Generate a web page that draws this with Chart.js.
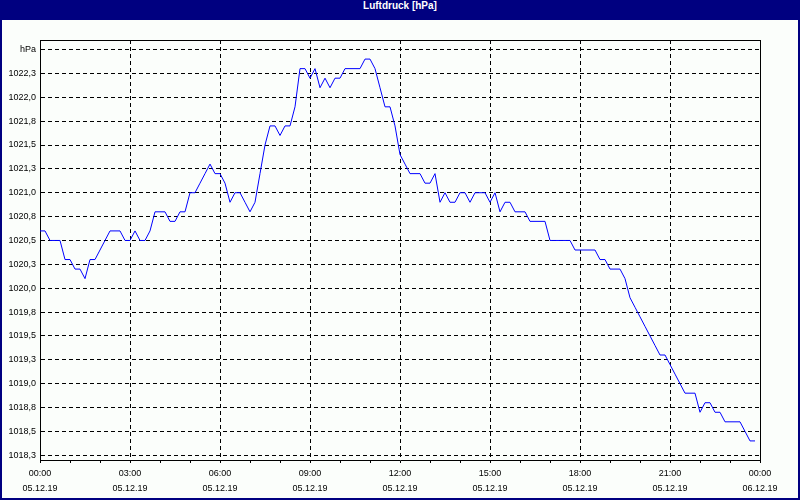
<!DOCTYPE html>
<html>
<head>
<meta charset="utf-8">
<script src="https://cdn.jsdelivr.net/npm/chart.js@4/dist/chart.umd.min.js"></script>
<style>
  html, body { margin: 0; padding: 0; background: #000080; }
  #frame { position: relative; width: 800px; height: 500px; background: #000080; overflow: hidden; }
  #title { position: absolute; left: 0; top: 0; width: 800px; height: 20px; line-height: 18px; text-align: center;
           color: #fff; font: bold 10px "Liberation Sans Narrow", "Liberation Sans", sans-serif; }
  #panel { position: absolute; left: 2px; top: 20px; right: 2px; bottom: 2px; background: #fbfefb; }
  #chart { position: absolute; left: 0; top: 0; }
</style>
</head>
<body>
<div id="frame">
  <div id="title">Luftdruck [hPa]</div>
  <div id="panel"></div>
  <canvas id="chart" width="800" height="500"></canvas>
</div>
<script>
// Luftdruck 05.12.19 – 10-Minuten-Werte, Zeit in Minuten ab 00:00
const stepMinutes = 10;
const pressure = [
    1020.6, 1020.6, 1020.5, 1020.5, 1020.5, 1020.3, 1020.3, 1020.2, 1020.2, 1020.1, 1020.3, 1020.3, // 00–02
    1020.4, 1020.5, 1020.6, 1020.6, 1020.6, 1020.5, 1020.5, 1020.6, 1020.5, 1020.5, 1020.6, 1020.8, // 02–04
    1020.8, 1020.8, 1020.7, 1020.7, 1020.8, 1020.8, 1021.0, 1021.0, 1021.1, 1021.2, 1021.3, 1021.2, // 04–06
    1021.2, 1021.1, 1020.9, 1021.0, 1021.0, 1020.9, 1020.8, 1020.9, 1021.2, 1021.5, 1021.7, 1021.7, // 06–08
    1021.6, 1021.7, 1021.7, 1021.9, 1022.3, 1022.3, 1022.2, 1022.3, 1022.1, 1022.2, 1022.1, 1022.2, // 08–10
    1022.2, 1022.3, 1022.3, 1022.3, 1022.3, 1022.4, 1022.4, 1022.3, 1022.1, 1021.9, 1021.9, 1021.7, // 10–12
    1021.4, 1021.3, 1021.2, 1021.2, 1021.2, 1021.1, 1021.1, 1021.2, 1020.9, 1021.0, 1020.9, 1020.9, // 12–14
    1021.0, 1021.0, 1020.9, 1021.0, 1021.0, 1021.0, 1020.9, 1021.0, 1020.8, 1020.9, 1020.9, 1020.8, // 14–16
    1020.8, 1020.8, 1020.7, 1020.7, 1020.7, 1020.7, 1020.5, 1020.5, 1020.5, 1020.5, 1020.5, 1020.4, // 16–18
    1020.4, 1020.4, 1020.4, 1020.4, 1020.3, 1020.3, 1020.2, 1020.2, 1020.2, 1020.1, 1019.9, 1019.8, // 18–20
    1019.7, 1019.6, 1019.5, 1019.4, 1019.3, 1019.3, 1019.2, 1019.1, 1019.0, 1018.9, 1018.9, 1018.9, // 20–22
    1018.7, 1018.8, 1018.8, 1018.7, 1018.7, 1018.6, 1018.6, 1018.6, 1018.6, 1018.5, 1018.4, 1018.4  // 22–24
];

const yTicks = [1018.25, 1018.5, 1018.75, 1019.0, 1019.25, 1019.5, 1019.75, 1020.0, 1020.25,
                1020.5, 1020.75, 1021.0, 1021.25, 1021.5, 1021.75, 1022.0, 1022.25, 1022.5];
const yUnitLabel = 'hPa';
const xTimeLabels = ['00:00', '03:00', '06:00', '09:00', '12:00', '15:00', '18:00', '21:00', '00:00'];
const xDateLabels = ['05.12.19', '05.12.19', '05.12.19', '05.12.19', '05.12.19', '05.12.19', '05.12.19', '05.12.19', '06.12.19'];

const points = pressure.map((p, i) => ({ x: i * stepMinutes, y: p }));

// top and right edge of the plot box
const framePlugin = {
    id: 'frame',
    afterDraw(chart) {
        const { ctx, chartArea: a } = chart;
        ctx.save();
        ctx.strokeStyle = '#000';
        ctx.lineWidth = 1;
        ctx.beginPath();
        ctx.moveTo(Math.round(a.left), Math.round(a.top) + 0.5);
        ctx.lineTo(Math.round(a.right) + 0.5, Math.round(a.top) + 0.5);
        ctx.lineTo(Math.round(a.right) + 0.5, Math.round(a.bottom));
        ctx.stroke();
        ctx.restore();
    }
};

Chart.defaults.font.family = '"Liberation Sans", Arial, sans-serif';
Chart.defaults.font.size = 9;
Chart.defaults.color = '#000';

new Chart(document.getElementById('chart'), {
    type: 'line',
    data: {
        datasets: [{
            data: points,
            borderColor: '#0000ff',
            borderWidth: 1,
            pointRadius: 0,
            tension: 0,
            fill: false,
        }]
    },
    options: {
        responsive: false,
        animation: false,
        layout: { padding: { top: 40, right: 40, left: 0, bottom: 0 } },
        plugins: {
            legend: { display: false },
            tooltip: { enabled: false },
        },
        scales: {
            x: {
                type: 'linear',
                min: 0,
                max: 1440,
                afterBuildTicks: (scale) => {
                    const t = [];
                    for (let v = 0; v <= 1440; v += 60) t.push({ value: v });
                    scale.ticks = t;
                },
                afterFit: (scale) => { scale.height = 40; },
                ticks: {
                    autoSkip: false,
                    maxRotation: 0,
                    padding: 3,
                    font: { size: 9, lineHeight: '15px' },
                    callback: (v) => v % 180 === 0 ? [xTimeLabels[v / 180], xDateLabels[v / 180]] : '',
                },
                grid: {
                    color: (ctx) => (ctx.tick && ctx.tick.value % 180 === 0) ? '#000' : 'rgba(0,0,0,0)',
                    tickColor: '#000',
                    tickLength: 3,
                    tickBorderDash: [],
                    lineWidth: 1,
                },
                border: { display: true, color: '#000', width: 1, dash: [4, 3] },
            },
            y: {
                min: 1018.2,
                max: 1022.6,
                afterBuildTicks: (scale) => { scale.ticks = yTicks.map(v => ({ value: v })); },
                afterFit: (scale) => { scale.width = 40; },
                ticks: {
                    autoSkip: false,
                    padding: 4,
                    callback: (v) => v === 1022.5 ? yUnitLabel : v.toFixed(1).replace('.', ','),
                },
                grid: {
                    color: '#000',
                    drawTicks: false,
                    lineWidth: 1,
                },
                border: { display: true, color: '#000', width: 1, dash: [4, 3] },
            }
        }
    },
    plugins: [framePlugin]
});
</script>
</body>
</html>
